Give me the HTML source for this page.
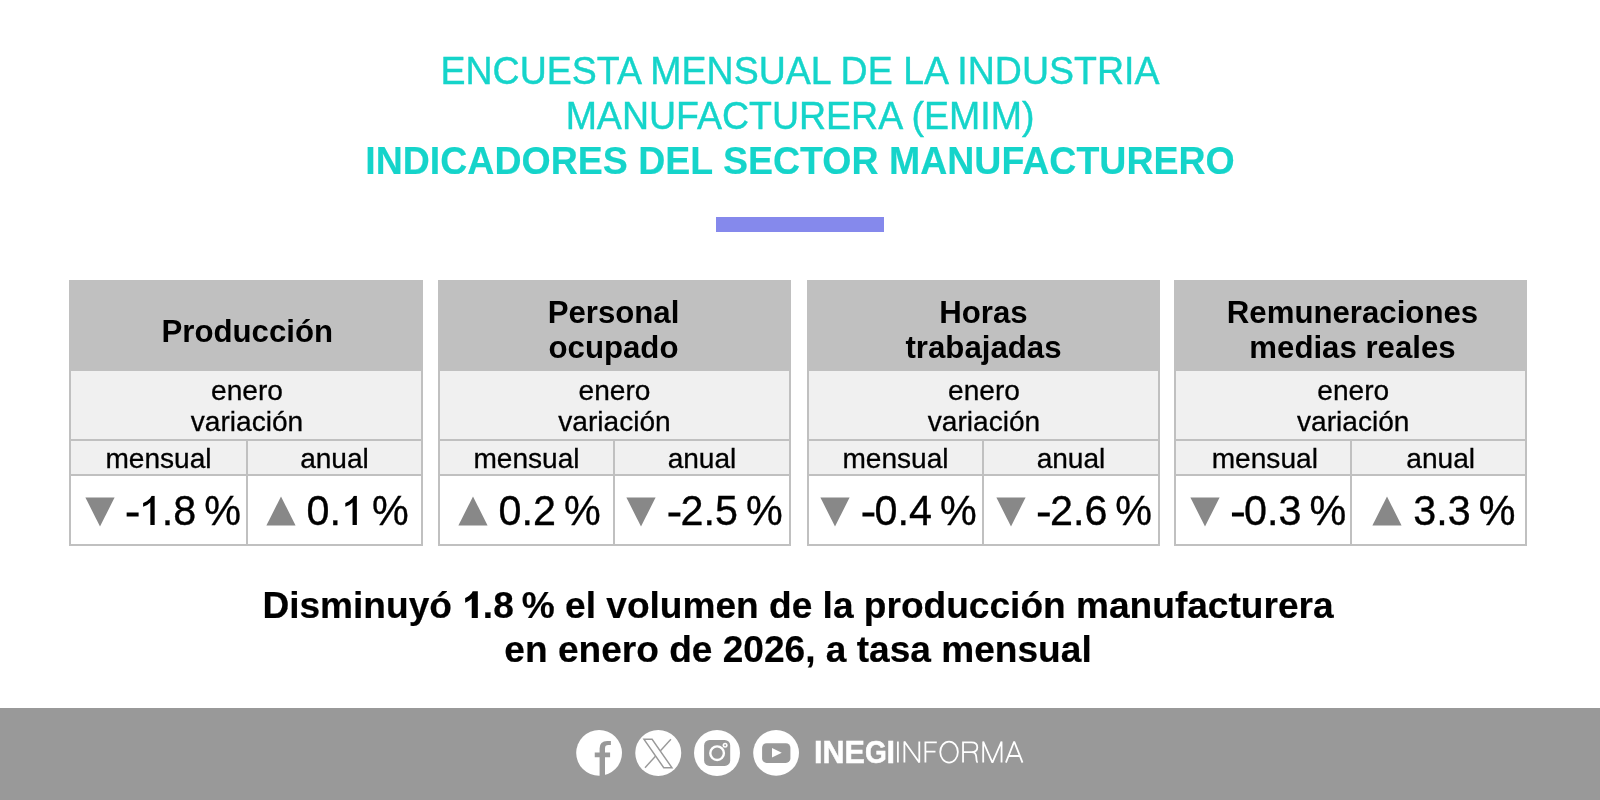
<!DOCTYPE html>
<html><head><meta charset="utf-8">
<style>
*{margin:0;padding:0;box-sizing:border-box}
html,body{width:1600px;height:800px;overflow:hidden;background:#fff}
body{font-family:"Liberation Sans",sans-serif;position:relative;color:#000}
.tb,#cap,#ft,.t{will-change:transform}
.t{position:absolute;left:0;width:1600px;text-align:center;color:#15d4ca;font-size:37.5px;line-height:45px;white-space:nowrap;-webkit-text-stroke:0.4px #15d4ca;transform:scaleY(1.035);transform-origin:50% 35.5px}
#t1{top:48.5px}
#t2{top:93.5px}
#t3{top:138.5px;font-weight:bold;left:0;-webkit-text-stroke:0.15px #15d4ca}
#bar{position:absolute;left:716px;top:217px;width:168px;height:15px;background:#8589ec}
.tb{position:absolute;top:280px;height:266px;background:#c0c0c0}
.hd{position:absolute;left:0;top:0;width:100%;height:91px;text-align:center;font-weight:bold;font-size:31.2px;line-height:35px;padding-top:15px;white-space:nowrap}
.hd.one{padding-top:34px}
.sub{-webkit-text-stroke:0.3px #000;position:absolute;left:2px;right:2px;top:91px;height:68px;background:#f0f0f0;text-align:center;font-size:28.1px;line-height:31px;padding-top:3.6px;padding-left:2px}
.c{-webkit-text-stroke:0.3px #000;padding-top:0.6px;position:absolute;background:#f0f0f0;top:161px;height:33px;text-align:center;font-size:28.1px;line-height:33px}
.v{position:absolute;background:#fff;top:196px;height:68px;font-size:41.3px;line-height:68px;white-space:nowrap}
.v .x{top:1.2px !important}
.v .g{position:absolute;top:0;left:0;height:68px}
.v svg{position:absolute;left:0;width:30px;height:30px;overflow:visible}
.v .x{position:absolute;left:40.5px;top:0;-webkit-text-stroke:0.35px #000;transform:scaleY(1.04);transform-origin:0 48.5px}
.th{display:inline-block;width:8px}
.d1b{display:inline-block;width:0.556em;height:0.719em;background:#000;clip-path:polygon(46.1% 100%,75.6% 100%,75.6% 0,50.7% 0,45.7% 7.6%,35.2% 16%,24.6% 21.2%,14.2% 25.2%,14.2% 42.5%,24.6% 39.2%,35.1% 34.4%,46.1% 28.1%)}
.hy{display:inline-block;width:.333em;height:.303em;background:#000;clip-path:polygon(12% 0,99% 0,99% 35%,12% 35%)}
.d1{display:inline-block;width:0.556em;height:0.688em;background:#000;clip-path:polygon(50.5% 100%,69.4% 100%,69.4% 0,57% 0,49.2% 10%,35.1% 19.5%,19% 25.8%,19% 38.5%,36.9% 32.6%,50.5% 23.5%)}
#cap{-webkit-text-stroke:0.2px #000;position:absolute;left:-2.4px;width:1600px;top:583px;text-align:center;font-weight:bold;font-size:37.1px;line-height:44px;white-space:nowrap}
#ft{position:absolute;left:0;top:708px;width:1600px;height:92px;background:#999}
#inegi{-webkit-text-stroke:0.5px #fff;position:absolute;left:814px;top:27px;font-weight:bold;font-size:30.5px;line-height:35px;color:#fff;white-space:nowrap}
</style></head><body>
<div class="t" id="t1">ENCUESTA MENSUAL DE LA INDUSTRIA</div>
<div class="t" id="t2">MANUFACTURERA (EMIM)</div>
<div class="t" id="t3">INDICADORES DEL SECTOR MANUFACTURERO</div>
<div id="bar"></div>

<div class="tb" style="left:69px;width:354px">
 <div class="hd one" style="padding-left:2.6px">Producción</div>
 <div class="sub">enero<br>variación</div>
 <div class="c" style="left:2px;width:175px">mensual</div><div class="c" style="left:179px;width:173px">anual</div>
 <div class="v" style="left:2px;width:175px"><div class="g" style="left:13.5px"><svg style="top:21px" viewBox="0 0 30 30"><path d="M0.4 0.4H29.6L15 29.6Z" fill="#888"/></svg><span class="x"><span class="hy"></span><span class="d1"></span>.8<span class="th"></span>%</span></div></div>
 <div class="v" style="left:179px;width:173px"><div class="g" style="left:18px"><svg style="top:20px" viewBox="0 0 30 30"><path d="M0.4 29.6H29.6L15 0.4Z" fill="#888"/></svg><span class="x">0.<span class="d1"></span><span class="th"></span>%</span></div></div>
</div>
<div class="tb" style="left:438px;width:353px">
 <div class="hd" style="padding-right:2px">Personal<br>ocupado</div>
 <div class="sub" style="padding-left:0">enero<br>variación</div>
 <div class="c" style="left:2px;width:173px">mensual</div><div class="c" style="left:177px;width:174px">anual</div>
 <div class="v" style="left:2px;width:173px"><div class="g" style="left:18px"><svg style="top:20px" viewBox="0 0 30 30"><path d="M0.4 29.6H29.6L15 0.4Z" fill="#888"/></svg><span class="x">0.2<span class="th"></span>%</span></div></div>
 <div class="v" style="left:177px;width:174px"><div class="g" style="left:11.3px"><svg style="top:21px" viewBox="0 0 30 30"><path d="M0.4 0.4H29.6L15 29.6Z" fill="#888"/></svg><span class="x"><span class="hy"></span>2.5<span class="th"></span>%</span></div></div>
</div>
<div class="tb" style="left:807px;width:353px">
 <div class="hd">Horas<br>trabajadas</div>
 <div class="sub" style="padding-left:1px">enero<br>variación</div>
 <div class="c" style="left:2px;width:173px">mensual</div><div class="c" style="left:177px;width:174px">anual</div>
 <div class="v" style="left:2px;width:173px"><div class="g" style="left:11.3px"><svg style="top:21px" viewBox="0 0 30 30"><path d="M0.4 0.4H29.6L15 29.6Z" fill="#888"/></svg><span class="x"><span class="hy"></span>0.4<span class="th"></span>%</span></div></div>
 <div class="v" style="left:177px;width:174px"><div class="g" style="left:11.7px"><svg style="top:21px" viewBox="0 0 30 30"><path d="M0.4 0.4H29.6L15 29.6Z" fill="#888"/></svg><span class="x"><span class="hy"></span>2.6<span class="th"></span>%</span></div></div>
</div>
<div class="tb" style="left:1174px;width:353px">
 <div class="hd" style="padding-left:4px">Remuneraciones<br>medias reales</div>
 <div class="sub" style="padding-left:5.5px">enero<br>variación</div>
 <div class="c" style="left:2px;width:174px;padding-left:3.6px">mensual</div><div class="c" style="left:178px;width:173px;padding-left:4.4px">anual</div>
 <div class="v" style="left:2px;width:174px"><div class="g" style="left:13.8px"><svg style="top:21px" viewBox="0 0 30 30"><path d="M0.4 0.4H29.6L15 29.6Z" fill="#888"/></svg><span class="x"><span class="hy"></span>0.3<span class="th"></span>%</span></div></div>
 <div class="v" style="left:178px;width:173px"><div class="g" style="left:19.8px"><svg style="top:20px" viewBox="0 0 30 30"><path d="M0.4 29.6H29.6L15 0.4Z" fill="#888"/></svg><span class="x" style="left:41.5px">3.3<span class="th"></span>%</span></div></div>
</div>

<div id="cap">Disminuyó <span class="d1b"></span>.8<span class="th"></span>% el volumen de la producción manufacturera<br>en enero de 2026, a tasa mensual</div>
<div id="ft">
<svg width="1600" height="92" viewBox="0 708 1600 92" style="position:absolute;left:0;top:0">
<circle cx="599.1" cy="752.9" r="22.9" fill="#fff"/>
<path fill="#999" d="M599.6 776V757.25H594.75V752.4H599.6V748.6Q599.6 741.1 607.2 741.1H610.9V745.1H608.3Q605 745.1 605 748.4V752.4H610.1V757.25H605V776Z"/>
<circle cx="658.25" cy="752.9" r="23" fill="#fff"/>
<g stroke="#999" stroke-width="1.4" fill="none" stroke-linejoin="miter">
<path d="M670.9 739.25L645 767.75"/>
<path d="M643.9 739.25H652.1L672 767.75H663.75Z" fill="#fff"/>
</g>
<circle cx="717" cy="752.9" r="23" fill="#fff"/>
<rect x="704.1" y="740" width="26.1" height="25.9" rx="5.5" fill="#999"/>
<circle cx="717.1" cy="753.2" r="6.8" fill="none" stroke="#fff" stroke-width="2.4"/>
<circle cx="725.1" cy="745.25" r="2.5" fill="#fff"/><circle cx="725.1" cy="745.25" r="0.9" fill="#999"/>
<circle cx="776.1" cy="752.9" r="22.9" fill="#fff"/>
<rect x="762.1" y="743.2" width="28.3" height="19.7" rx="4.5" fill="#999"/>
<path d="M772 747.9V757.6L781.75 752.7Z" fill="#fff"/>
<g stroke="#fff" stroke-width="1.8" fill="none" stroke-linejoin="miter" stroke-linecap="butt">
<path d="M897.9 741.5V762.6"/>
<path d="M904.4 762.6V741.5L919.3 762.6V741.5" stroke-linejoin="bevel"/>
<path d="M925.4 762.6V742.4H936.8M925.4 751.7H935.5"/>
<ellipse cx="949.05" cy="752.1" rx="8.8" ry="10.5"/>
<path d="M963.05 762.6V742.4H971.5Q977.3 742.4 977.3 747.3Q977.3 752.2 971.5 752.2H963.05M971.5 752.2Q975.8 752.2 976.2 756.5L976.6 760.5Q976.8 762 977.6 762.6"/>
<path d="M983.2 762.6V741.5L992.4 762.6L1001.55 741.5V762.6" stroke-linejoin="bevel"/>
<path d="M1005.9 762.6L1014.2 741.5L1022.5 762.6M1008.6 756H1019.8" stroke-linejoin="bevel"/>
</g>
</svg>
<div id="inegi">INE<span style="display:inline-block;transform:scaleX(0.92);transform-origin:0 0;margin-right:-2px">G</span>I</div>
</div>
</body></html>
